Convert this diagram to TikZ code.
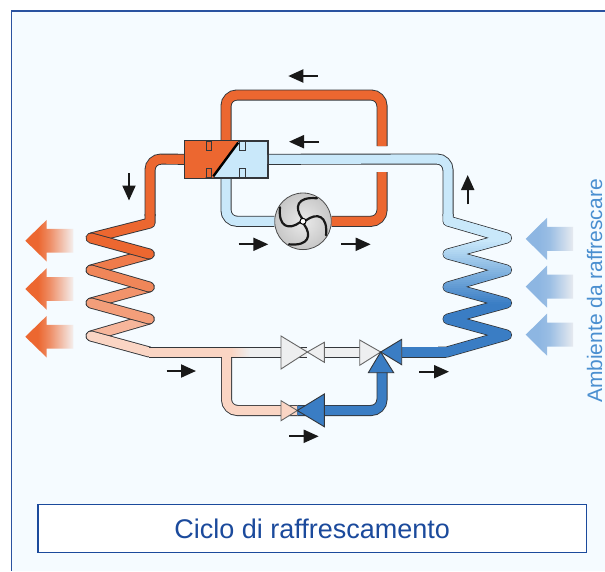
\documentclass[tikz,border=0pt]{standalone}
\usepackage{fontspec}
\setmainfont{Liberation Sans}
\usetikzlibrary{arrows.meta}

\definecolor{pagebg}{HTML}{F5FBFF}
\definecolor{framec}{HTML}{2A52A0}
\definecolor{titlec}{HTML}{1B4A9C}
\definecolor{sidec}{HTML}{4A8FD0}
\definecolor{pipeedge}{HTML}{33363A}
\definecolor{hot}{HTML}{EC6730}
\definecolor{cold}{HTML}{3A7DC4}
\definecolor{ice}{HTML}{C9E8FA}
\definecolor{salmon}{HTML}{FAD5C4}
\definecolor{idle}{HTML}{EEEFF0}
\definecolor{airblue}{HTML}{8DB6E2}
\definecolor{airend}{HTML}{E6EAF0}

\pgfdeclarehorizontalshading{hotair}{100bp}{color(0bp)=(hot); color(38bp)=(hot); color(50bp)=(hot!75!pagebg); color(75bp)=(hot!8!pagebg); color(100bp)=(hot!8!pagebg)}
\pgfdeclarehorizontalshading{coldair}{100bp}{color(0bp)=(airblue); color(38bp)=(airblue); color(50bp)=(airblue!85!airend); color(75bp)=(airend); color(100bp)=(airend)}

\tikzset{
  pipe/.style={draw=pipeedge, line width=0.9pt, double=#1, double distance=9.2pt, rounded corners=11pt},
  coilseg/.style={pipe=#1, line cap=round, line join=round, rounded corners=0pt},
  valve/.style={draw=#1, line width=0.9pt, line join=miter},
  flow/.style={line width=2pt, draw=black!90, -{Triangle[length=15pt,width=13pt]}},
  latch/.style={draw=pipeedge, line width=0.9pt},
  rim/.style={draw=pipeedge, line width=1pt},
}
\def\rightcoil{(448,214) -- (448,221) -- (506.5,238) -- (448,254) -- (506.5,270) -- (448,287) -- (506.5,303) -- (448,319) -- (506.5,335) -- (447,352) -- (438,352)}

\begin{document}
\begin{tikzpicture}[x=1pt, y=-1pt, >=stealth]
\useasboundingbox (0,0) rectangle (605,571);
\fill[white] (0,0) rectangle (605,571);
\fill[pagebg] (11.5,11) rectangle (605,571);
\draw[framec, line width=1.5pt] (605,11) -- (11.5,11) -- (11.5,571);

% named parts
\node[draw=pipeedge, line width=0.9pt, fill=ice, minimum width=83pt, minimum height=36.7pt, inner sep=0pt] (rev) at (226,159.3) {};
\node[draw=black!70, circle, line width=0.8pt, minimum size=56.6pt, inner sep=0pt, inner color=white!92!black, outer color=white!78!black] (fan) at (303,221.3) {};
\coordinate (crossT) at (382,146);
\coordinate (crossB) at (382,172);
\coordinate (vU) at (307.3,352);
\coordinate (vJ) at (380.7,352);
\coordinate (vL) at (297.3,410.5);

% pipes of the loop round the fan
\draw[pipe=hot] (rev.north) -- (226,95) -- (382,95) -- (crossT);
\draw[pipe=hot] (crossB) -- (382,221.3) -- (fan.east);
\draw[pipe=ice] (rev.south) -- (226,221.3) -- (fan.west);
\draw[pipe=ice] (rev.east) -- (448,159) -- (448,216);
\draw[pipe=hot] (rev.west) -- (150,159) -- (150,216);

% left coil
\draw[pipe=hot, rounded corners=0pt, line join=round] (150,214) -- (150,223) -- (91,238);
\draw[coilseg=hot!82!salmon] (149.3,254) -- (91,270);
\draw[coilseg=hot!60!salmon] (149.3,287) -- (91,303);
\draw[coilseg=hot!28!salmon] (149.3,319) -- (91,336);
\draw[coilseg=hot] (91,238) -- (149.3,254);
\draw[coilseg=hot!72!salmon] (91,270) -- (149.3,287);
\draw[coilseg=hot!50!salmon] (91,303) -- (149.3,319);
\draw[coilseg=salmon] (91,336) -- (149.3,352);

% right coil
\draw[pipeedge, line width=11pt, line join=round] \rightcoil;
\foreach \yy in {212,214,...,358}{
  \pgfmathsetmacro\mixv{min(100,max(0,(\yy-240)/63*100))}
  \begin{scope}
    \clip (430,\yy) rectangle (520,\yy+3);
    \draw[cold!\mixv!ice, line width=9.2pt, line join=round] \rightcoil;
  \end{scope}
}

% lower pipes
\draw[pipe=salmon] (226.5,352) -- (226.5,410.5) -- (vL);
\fill[idle] (231,347) rectangle (vU|-0,357);
\fill[salmon] (149,347) rectangle (231,357);
\shade[left color=salmon, right color=idle] (231,347) rectangle (250,357);
\fill[salmon] (222.1,347) rectangle (230.9,359);
\draw[rim] (149.3,347) -- (vU|-0,347);
\draw[rim] (149.3,357) -- (221.6,357);
\draw[rim] (231.4,357) -- (vU|-0,357);
\fill[idle] (324.3,347) rectangle (359.7,357);
\draw[rim] (324.3,347) -- (359.7,347);
\draw[rim] (324.3,357) -- (359.7,357);
\draw[pipe=cold, rounded corners=0pt] (446,352) -- (401.7,352);
\draw[pipe=cold] (vL) -- (382,410.5) -- (382,372);

% valves
\draw[valve=black!60, fill=idle] (vU) -- (281,336) -- (281,369) -- cycle;
\draw[valve=black!60, fill=idle] (vU) -- (324.3,342.3) -- (324.3,362.3) -- cycle;
\draw[valve=black!60, fill=idle] (vJ) -- (359.7,340) -- (359.7,365.3) -- cycle;
\draw[valve=pipeedge, fill=cold] (vJ) -- (401.7,339.3) -- (401.7,364.7) -- cycle;
\draw[valve=pipeedge, fill=cold] (vJ) -- (368.3,372.7) -- (393.7,372.7) -- cycle;
\draw[valve=black!60, fill=salmon] (vL) -- (281,400.7) -- (281,420.7) -- cycle;
\draw[valve=pipeedge, fill=cold] (vL) -- (324.3,394) -- (324.3,426.7) -- cycle;

% four way box
\fill[hot] (rev.north west) -- (238.3,141) -- (213.3,177.6) -- (rev.south west) -- cycle;
\draw[pipeedge, line width=0.9pt] (rev.north west) rectangle (rev.south east);
\foreach \xx/\colr in {209/hot,242.5/ice}{
  \draw[latch, fill=\colr] (\xx-2.7,141) rectangle (\xx+2.7,150.7);
  \draw[latch, fill=\colr] (\xx-2.7,168.3) rectangle (\xx+2.7,177.6);
}
\draw[black, line width=2.4pt] (238.3,142.5) -- (213.3,176.3);

% fan blades
\foreach \ang in {0,90,180,270}{
  \draw[black!90, line width=2.2pt, line cap=round, rotate around={\ang:(fan.center)}]
    ([shift={(-1,-3)}]fan.center) .. controls ([shift={(-9,-14)}]fan.center) and ([shift={(-6,-25)}]fan.center) .. ([shift={(14,-23)}]fan.center);
}
\node[circle, draw=black, fill=white, line width=1pt, minimum size=6pt, inner sep=0pt] (hub) at (fan.center) {};

% flow arrows
\draw[flow] (317.7,76) -- (288.3,76);
\draw[flow] (319,141.7) -- (289,141.7);
\draw[flow] (238.7,244.3) -- (268.3,244.3);
\draw[flow] (341,244.3) -- (370.7,244.3);
\draw[flow] (129,173) -- (129,200.5);
\draw[flow] (467.7,204.3) -- (467.7,175);
\draw[flow] (166.5,371) -- (196,371);
\draw[flow] (419.3,371.7) -- (449,371.7);
\draw[flow] (289,436.3) -- (318.7,436.3);

% air arrows
\foreach \yy in {240.7,289,336.7}{
  \shade[shading=hotair] (25.3,\yy) -- (46.7,\yy-20.8) -- (46.7,\yy-11.8) -- (73.3,\yy-11.8) -- (73.3,\yy+11.8) -- (46.7,\yy+11.8) -- (46.7,\yy+20.8) -- cycle;
}
\foreach \yy in {238.8,286.7,334.7}{
  \shade[shading=coldair] (525.7,\yy) -- (547,\yy-21) -- (547,\yy-12) -- (573,\yy-12) -- (573,\yy+12) -- (547,\yy+12) -- (547,\yy+21) -- cycle;
}

\node[rotate=90, text=sidec, font=\fontsize{21}{24}\selectfont, inner sep=0pt] (sidelabel) at (594.5,291) {Ambiente da raffrescare};
\node[draw=titlec, line width=1.2pt, fill=white, text=titlec, minimum width=548.5pt, minimum height=48pt, inner sep=0pt, font=\fontsize{27}{30}\selectfont] (title) at (312.2,528.7) {Ciclo di raffrescamento};

\end{tikzpicture}
\end{document}
